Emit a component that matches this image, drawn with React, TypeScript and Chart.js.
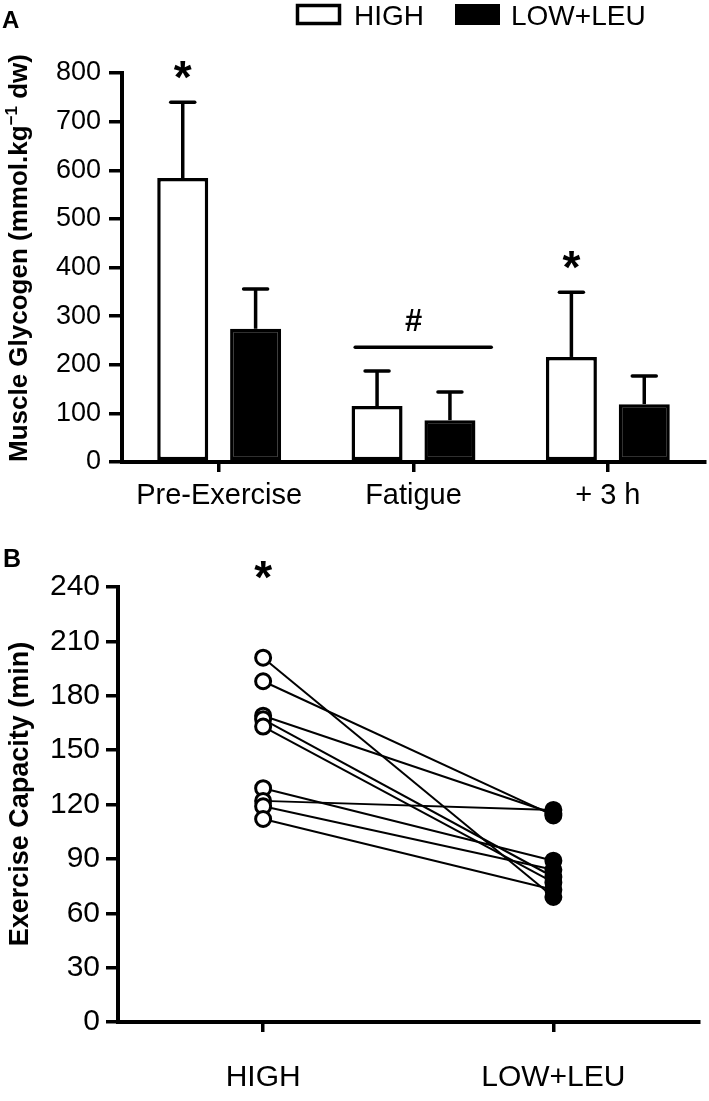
import React, { useEffect, useRef } from 'react';
import { Chart, registerables } from 'chart.js';

Chart.register(...registerables);

// ---------- Panel A: muscle glycogen ----------
const GLY_CATEGORIES = ['Pre-Exercise', 'Fatigue', '+ 3 h'];
const GLY_HIGH_MEAN = [584, 115, 216];
const GLY_HIGH_SD = [156, 72, 133];
const GLY_LOW_MEAN = [274, 86, 119];
const GLY_LOW_SD = [82, 58, 58];
const GLY_Y_MIN = 0;
const GLY_Y_MAX = 800;
const GLY_Y_STEP = 100;
const GLY_STAR_CATEGORIES = [0, 2];
const GLY_HASH_CATEGORY = 1;
const GLY_HASH_LEVEL = 236;
const SERIES_NAMES = ['HIGH', 'LOW+LEU'];

// ---------- Panel B: exercise capacity (paired) ----------
const CAP_GROUPS = ['HIGH', 'LOW+LEU'];
const CAP_HIGH = [201, 188, 169, 167, 163, 129, 122, 119, 112];
const CAP_LOW = [69, 114, 115, 80, 77, 89, 117, 84, 73];
const CAP_Y_MIN = 0;
const CAP_Y_MAX = 240;
const CAP_Y_STEP = 30;

const FONT = "'Liberation Sans', Arial, Helvetica, sans-serif";
const BLACK = '#000000';
const WHITE = '#ffffff';

function drawRotatedTitle(ctx: CanvasRenderingContext2D, parts: { text: string; font: string; dy: number }[], cx: number, cy: number) {
  ctx.save();
  ctx.translate(cx, cy);
  ctx.rotate(-Math.PI / 2);
  ctx.fillStyle = BLACK;
  ctx.textBaseline = 'alphabetic';
  ctx.textAlign = 'left';
  let total = 0;
  const widths = parts.map((p) => {
    ctx.font = p.font;
    const w = ctx.measureText(p.text).width;
    total += w;
    return w;
  });
  let x = -total / 2;
  parts.forEach((p, i) => {
    ctx.font = p.font;
    ctx.fillText(p.text, x, p.dy);
    x += widths[i];
  });
  ctx.restore();
}

const errorBarPlugin = {
  id: 'errorBars',
  afterDatasetsDraw(chart: any) {
    const { ctx } = chart;
    const yScale = chart.scales.y;
    const sds = [GLY_HIGH_SD, GLY_LOW_SD];
    chart.data.datasets.forEach((ds: any, di: number) => {
      const meta = chart.getDatasetMeta(di);
      meta.data.forEach((el: any, i: number) => {
        const top = yScale.getPixelForValue(ds.data[i] + sds[di][i]);
        ctx.save();
        ctx.strokeStyle = BLACK;
        ctx.lineWidth = 3.5;
        ctx.lineCap = 'butt';
        ctx.beginPath();
        ctx.moveTo(el.x, el.y);
        ctx.lineTo(el.x, top);
        ctx.stroke();
        ctx.lineCap = 'round';
        ctx.beginPath();
        ctx.moveTo(el.x - 12, top);
        ctx.lineTo(el.x + 12, top);
        ctx.stroke();
        ctx.restore();
      });
    });
  },
};

const panelADecor = {
  id: 'panelADecor',
  afterDraw(chart: any) {
    const { ctx } = chart;
    const yScale = chart.scales.y;
    const xScale = chart.scales.x;
    ctx.save();
    // panel letter
    ctx.fillStyle = BLACK;
    ctx.font = `bold 24px ${FONT}`;
    ctx.textAlign = 'left';
    ctx.textBaseline = 'alphabetic';
    ctx.fillText('A', 2, 28);
    // legend
    ctx.font = `28px ${FONT}`;
    ctx.lineWidth = 3.5;
    ctx.strokeStyle = BLACK;
    ctx.fillStyle = WHITE;
    ctx.fillRect(297.5, 5.5, 42, 18);
    ctx.strokeRect(297.5, 5.5, 42, 18);
    ctx.fillStyle = BLACK;
    ctx.fillText(SERIES_NAMES[0], 354, 25);
    ctx.fillRect(455, 4, 45, 21);
    ctx.fillText(SERIES_NAMES[1], 511, 25);
    // stars
    const highMeta = chart.getDatasetMeta(0);
    ctx.font = `bold 46px ${FONT}`;
    ctx.textAlign = 'center';
    GLY_STAR_CATEGORIES.forEach((ci) => {
      const el = highMeta.data[ci];
      const top = yScale.getPixelForValue(GLY_HIGH_MEAN[ci] + GLY_HIGH_SD[ci]);
      ctx.fillText('*', el.x, top - 34 + 25);
    });
    // hash bar over fatigue
    const cx = xScale.getPixelForValue(GLY_HASH_CATEGORY);
    const cw = xScale.width / GLY_CATEGORIES.length;
    const hy = yScale.getPixelForValue(GLY_HASH_LEVEL);
    ctx.lineWidth = 3.5;
    ctx.lineCap = 'round';
    ctx.beginPath();
    ctx.moveTo(cx - 0.3 * cw, hy);
    ctx.lineTo(cx + 0.4 * cw, hy);
    ctx.stroke();
    ctx.font = `bold 31px ${FONT}`;
    ctx.fillText('#', cx, hy - 16);
    ctx.restore();
    // y title
    drawRotatedTitle(
      ctx,
      [
        { text: 'Muscle Glycogen (mmol.kg', font: `bold 26px ${FONT}`, dy: 0 },
        { text: '\u22121', font: `bold 17px ${FONT}`, dy: -10 },
        { text: ' dw)', font: `bold 26px ${FONT}`, dy: 0 },
      ],
      27,
      258
    );
  },
};

const panelBDecor = {
  id: 'panelBDecor',
  afterDraw(chart: any) {
    const { ctx } = chart;
    const xScale = chart.scales.x;
    ctx.save();
    ctx.fillStyle = BLACK;
    ctx.font = `bold 25px ${FONT}`;
    ctx.textAlign = 'left';
    ctx.textBaseline = 'alphabetic';
    ctx.fillText('B', 3, 27);
    ctx.font = `bold 46px ${FONT}`;
    ctx.textAlign = 'center';
    ctx.fillText('*', xScale.getPixelForValue(0), chart.chartArea.top - 19 + 25);
    ctx.restore();
    drawRotatedTitle(ctx, [{ text: 'Exercise Capacity (min)', font: `bold 27px ${FONT}`, dy: 0 }], 28, 254);
  },
};

export default function App() {
  const refA = useRef<HTMLCanvasElement>(null);
  const refB = useRef<HTMLCanvasElement>(null);

  useEffect(() => {
    document.body.style.margin = '0';
    const axisCommon = {
      border: { display: true, color: BLACK, width: 4 },
    };

    const chartA = new Chart(refA.current as HTMLCanvasElement, {
      type: 'bar',
      data: {
        labels: GLY_CATEGORIES,
        datasets: [
          {
            label: SERIES_NAMES[0],
            data: GLY_HIGH_MEAN,
            backgroundColor: WHITE,
            borderColor: BLACK,
            borderWidth: 3.5,
            borderSkipped: false,
          },
          {
            label: SERIES_NAMES[1],
            data: GLY_LOW_MEAN,
            backgroundColor: BLACK,
            borderColor: BLACK,
            borderWidth: 3.5,
            borderSkipped: false,
          },
        ],
      },
      options: {
        animation: false,
        responsive: false,
        maintainAspectRatio: false,
        layout: { padding: { top: 73, right: 4, left: 0, bottom: 0 } },
        datasets: { bar: { categoryPercentage: 0.75, barPercentage: 0.7 } },
        plugins: { legend: { display: false }, tooltip: { enabled: false } },
        scales: {
          x: {
            ...axisCommon,
            grid: { display: true, drawOnChartArea: false, offset: false, tickLength: 10, color: BLACK, lineWidth: 3.5 },
            ticks: { color: BLACK, font: { family: FONT, size: 29 }, padding: 7, maxRotation: 0 },
            afterFit: (s: any) => {
              s.height = 78;
            },
          },
          y: {
            ...axisCommon,
            min: GLY_Y_MIN,
            max: GLY_Y_MAX,
            grid: { display: true, drawOnChartArea: false, tickLength: 13, color: BLACK, lineWidth: 3.5 },
            ticks: { stepSize: GLY_Y_STEP, color: BLACK, font: { family: FONT, size: 27 }, padding: 8 },
            afterFit: (s: any) => {
              s.width = 122;
            },
          },
        },
      },
      plugins: [errorBarPlugin, panelADecor],
    } as any);

    const lineSets = CAP_HIGH.map((h, i) => ({
      type: 'line',
      data: [h, CAP_LOW[i]],
      borderColor: BLACK,
      borderWidth: 2,
      pointRadius: 0,
      fill: false,
    }));

    const chartB = new Chart(refB.current as HTMLCanvasElement, {
      type: 'line',
      data: {
        labels: CAP_GROUPS,
        datasets: [
          {
            data: CAP_HIGH.map((v) => ({ x: CAP_GROUPS[0], y: v })),
            showLine: false,
            pointRadius: 7.5,
            pointBorderWidth: 3,
            pointBackgroundColor: WHITE,
            pointBorderColor: BLACK,
          },
          {
            data: CAP_LOW.map((v) => ({ x: CAP_GROUPS[1], y: v })),
            showLine: false,
            pointRadius: 7.5,
            pointBorderWidth: 3,
            pointBackgroundColor: BLACK,
            pointBorderColor: BLACK,
          },
          ...lineSets,
        ],
      },
      options: {
        animation: false,
        responsive: false,
        maintainAspectRatio: false,
        layout: { padding: { top: 47, right: 2, left: 0, bottom: 0 } },
        plugins: { legend: { display: false }, tooltip: { enabled: false } },
        scales: {
          x: {
            ...axisCommon,
            type: 'category',
            offset: true,
            grid: { display: true, drawOnChartArea: false, offset: false, tickLength: 10, color: BLACK, lineWidth: 3.5 },
            ticks: { color: BLACK, font: { family: FONT, size: 30 }, padding: 28, maxRotation: 0 },
            afterFit: (s: any) => {
              s.height = 79;
            },
          },
          y: {
            ...axisCommon,
            min: CAP_Y_MIN,
            max: CAP_Y_MAX,
            grid: { display: true, drawOnChartArea: false, tickLength: 12, color: BLACK, lineWidth: 3.5 },
            ticks: { stepSize: CAP_Y_STEP, color: BLACK, font: { family: FONT, size: 30 }, padding: 6 },
            afterFit: (s: any) => {
              s.width = 118;
            },
          },
        },
      },
      plugins: [panelBDecor],
    } as any);

    return () => {
      chartA.destroy();
      chartB.destroy();
    };
  }, []);

  return (
    <div style={{ position: 'relative', width: 709, height: 1101, background: WHITE, overflow: 'hidden' }}>
      <canvas ref={refA} width={709} height={540} style={{ position: 'absolute', left: 0, top: 0, width: 709, height: 540 }} />
      <canvas ref={refB} width={709} height={561} style={{ position: 'absolute', left: 0, top: 540, width: 709, height: 561 }} />
    </div>
  );
}
